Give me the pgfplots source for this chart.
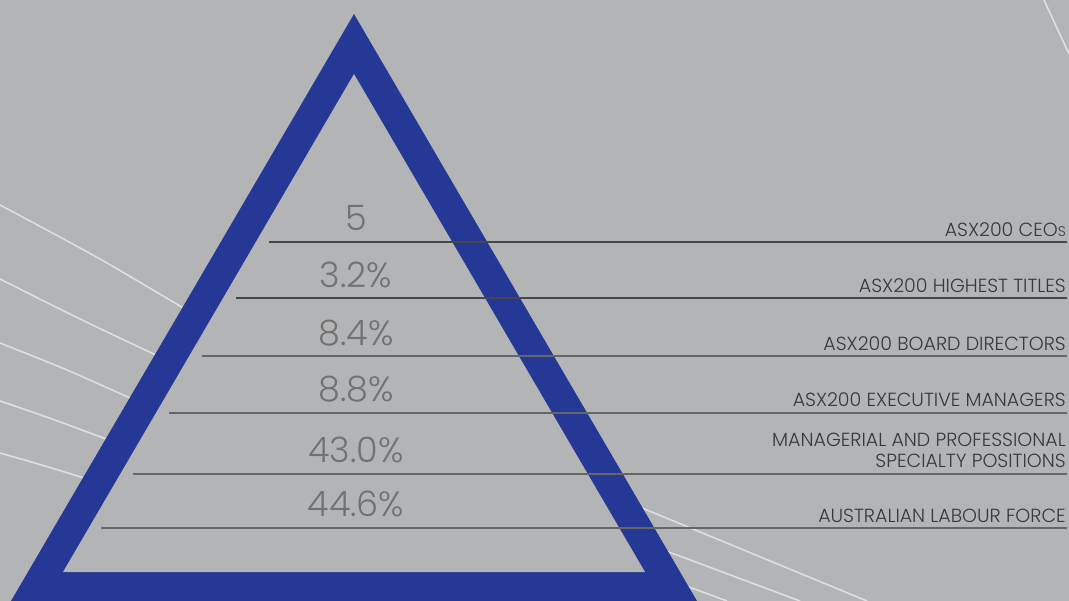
\documentclass[border=0pt]{standalone}
\usepackage{pgfplots}
\pgfplotsset{compat=1.18}
\usepackage{fontspec}
\setmainfont{Poppins Light}
\definecolor{bg}{HTML}{B3B4B6}
\definecolor{tri}{HTML}{253896}
\definecolor{lineA}{HTML}{474747}
\definecolor{lineB}{HTML}{666666}
\definecolor{numc}{HTML}{727272}
\definecolor{labc}{HTML}{383838}
\definecolor{wline}{HTML}{DEDFE0}
\begin{document}
\begin{tikzpicture}
\begin{axis}[width=1069pt,height=601pt,scale only axis,
  xmin=0,xmax=1069,ymin=0,ymax=601,y dir=reverse,hide axis,clip=true]
% background
\addplot[fill=bg,draw=none] coordinates {(0,0)(1069,0)(1069,601)(0,601)} -- cycle;
% white background curves
\addplot[wline,line width=1.6pt,smooth] coordinates {(0,205)(100,259)(200,318)};
\addplot[wline,line width=1.6pt,smooth] coordinates {(0,279)(80,319)(175,364)};
\addplot[wline,line width=1.6pt,smooth] coordinates {(0,343)(67,370)(150,407)};
\addplot[wline,line width=1.6pt,smooth] coordinates {(0,401)(52,419)(125,446)};
\addplot[wline,line width=1.6pt,smooth] coordinates {(0,453)(45,466)(100,483)};
\addplot[wline,line width=1.6pt] coordinates {(630,503)(867,601)};
\addplot[wline,line width=1.6pt] coordinates {(650,545)(800,601)};
\addplot[wline,line width=1.6pt] coordinates {(670,580)(727,601)};
\addplot[wline,line width=1.6pt] coordinates {(1044,0)(1069,54)};
% triangle
\addplot[fill=tri,draw=none] coordinates {(354,14)(11,601)(697,601)} -- cycle;
\addplot[fill=bg,draw=none] coordinates {(354,74)(63,572)(645,572)} -- cycle;
% horizontal rules
\addplot[lineA,line width=1.5pt] coordinates {(269,242)(1067,242)};
\addplot[lineA,line width=1.5pt] coordinates {(236,298)(1067,298)};
\addplot[lineB,line width=1.5pt] coordinates {(202,356)(1067,356)};
\addplot[lineB,line width=1.5pt] coordinates {(169,413)(1067,413)};
\addplot[lineB,line width=1.5pt] coordinates {(133,474)(1067,474)};
\addplot[lineB,line width=1.5pt] coordinates {(101,528)(1067,528)};
% numbers
\begin{scope}[every node/.style={inner sep=0pt,anchor=base,text=numc,font=\fontsize{35}{35}\selectfont}]
\node at (axis cs:356,231) {5};
\node at (axis cs:356,288) {3.2\%};
\node at (axis cs:356,346) {8.4\%};
\node at (axis cs:356,402) {8.8\%};
\node at (axis cs:356,463) {43.0\%};
\node at (axis cs:356,517) {44.6\%};
\end{scope}
% labels
\begin{scope}[every node/.style={inner sep=0pt,anchor=base east,text=labc,font=\fontsize{19}{22}\selectfont}]
\node at (axis cs:1066,237) {ASX200 CEO{\fontsize{14}{14}\selectfont S}};
\node at (axis cs:1066,293) {ASX200 HIGHEST TITLES};
\node at (axis cs:1066,351) {ASX200 BOARD DIRECTORS};
\node at (axis cs:1066,407) {ASX200 EXECUTIVE MANAGERS};
\node at (axis cs:1066,447) {MANAGERIAL AND PROFESSIONAL};
\node at (axis cs:1066,468) {SPECIALTY POSITIONS};
\node at (axis cs:1066,522) {AUSTRALIAN LABOUR FORCE};
\end{scope}
\end{axis}
\end{tikzpicture}
\end{document}
